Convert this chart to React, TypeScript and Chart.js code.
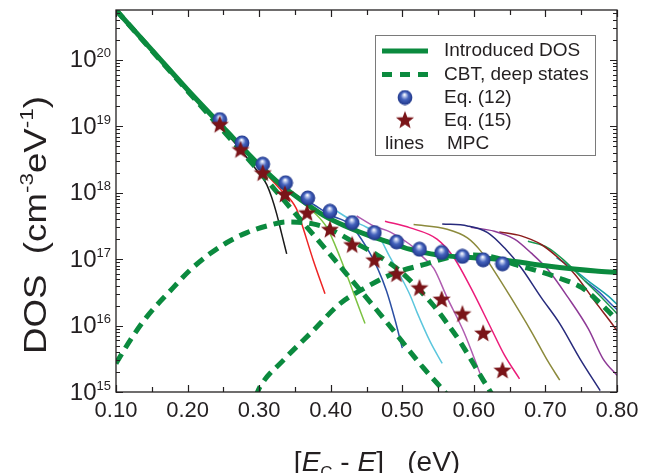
import React, { useEffect, useRef } from 'react';
import { Chart, registerables } from 'chart.js';

Chart.register(...registerables);

const FONT = '"Liberation Sans", Arial, Helvetica, sans-serif';

// ---------- axes ----------
const xMin = 0.1;
const xMax = 0.8;
const yMin = 1e15;
const yMax = 5.62e20;
const xTicks = [0.1, 0.2, 0.3, 0.4, 0.5, 0.6, 0.7, 0.8];
const xMinorTicks = [0.15, 0.25, 0.35, 0.45, 0.55, 0.65, 0.75];
const xTickLabels = ['0.10', '0.20', '0.30', '0.40', '0.50', '0.60', '0.70', '0.80'];
const yDecades = [15, 16, 17, 18, 19, 20];
const yTickLabels = ['15', '16', '17', '18', '19', '20'];

// ---------- data ----------
// Introduced DOS (thick solid)
const dosX = [0.10, 0.15, 0.20, 0.25, 0.30, 0.33, 0.36, 0.39, 0.42, 0.45, 0.48, 0.51, 0.54, 0.57, 0.60, 0.63, 0.66, 0.70, 0.74, 0.77, 0.80];
const dosY = [5.62e20, 1.41e20, 3.55e19, 9.55e18, 2.63e18, 1.32e18, 7.59e17, 4.57e17, 3.16e17, 2.34e17, 1.82e17, 1.41e17, 1.20e17, 1.10e17, 1.05e17, 1.00e17, 9.12e16, 7.94e16, 7.08e16, 6.61e16, 6.31e16];

// CBT (dashed)
const cbtX = [0.10, 0.20, 0.30, 0.347, 0.403, 0.473, 0.529, 0.557, 0.58];
const cbtY = [5.62e20, 3.39e19, 2.09e18, 5.37e17, 1.05e17, 1.32e16, 2.34e15, 1.07e15, 5.25e14];

// deep states, first (dashed)
const deep1X = [0.10, 0.12, 0.143, 0.18, 0.203, 0.231, 0.255, 0.283, 0.311, 0.339, 0.375, 0.403, 0.43, 0.465, 0.497, 0.52, 0.543, 0.563, 0.58, 0.597, 0.613, 0.625, 0.64];
const deep1Y = [2.69e15, 6.03e15, 1.35e16, 3.72e16, 6.76e16, 1.20e17, 1.78e17, 2.51e17, 3.16e17, 3.63e17, 3.39e17, 2.69e17, 1.86e17, 1.15e17, 6.61e16, 3.80e16, 2.04e16, 1.07e16, 5.89e15, 2.95e15, 1.51e15, 9.33e14, 4.79e14];

// deep states, second (dashed)
const deep2X = [0.295, 0.3012, 0.334, 0.376, 0.413, 0.45, 0.487, 0.534, 0.567, 0.60, 0.63, 0.657, 0.69, 0.718, 0.751, 0.774, 0.797, 0.80];
const deep2Y = [8.51e14, 1.20e15, 3.02e15, 8.51e15, 2.14e16, 3.80e16, 6.03e16, 8.51e16, 1.07e17, 1.15e17, 1.05e17, 8.32e16, 6.61e16, 5.25e16, 3.72e16, 2.29e16, 1.29e16, 1.17e16];

// Eq. (12) spheres
const eq12X = [0.245, 0.276, 0.305, 0.337, 0.368, 0.399, 0.430, 0.461, 0.492, 0.524, 0.555, 0.584, 0.613, 0.640];
const eq12Y = [1.26e19, 5.62e18, 2.69e18, 1.41e18, 8.32e17, 5.25e17, 3.55e17, 2.51e17, 1.82e17, 1.41e17, 1.26e17, 1.10e17, 9.77e16, 8.51e16];

// Eq. (15) stars
const eq15X = [0.245, 0.274, 0.305, 0.336, 0.367, 0.399, 0.430, 0.461, 0.492, 0.524, 0.555, 0.584, 0.613, 0.640];
const eq15Y = [1.07e19, 4.47e18, 2.00e18, 9.55e17, 5.01e17, 2.82e17, 1.66e17, 9.77e16, 6.03e16, 3.72e16, 2.51e16, 1.51e16, 7.76e15, 2.14e15];

// MPC thin lines
const blackX = [0.24, 0.27, 0.295, 0.305, 0.3106, 0.3175, 0.3245, 0.3315, 0.3385];
const blackY = [1.12e19, 5.01e18, 2.29e18, 1.66e18, 1.32e18, 8.51e17, 4.79e17, 2.40e17, 1.20e17];
const redX = [0.262, 0.29, 0.315, 0.335, 0.345, 0.352, 0.358, 0.3757, 0.392];
const redY = [7.08e18, 3.31e18, 1.66e18, 9.77e17, 7.59e17, 5.75e17, 3.80e17, 9.55e16, 3.02e16];
const lightGreenX = [0.30, 0.33, 0.355, 0.375, 0.3944, 0.413, 0.4316, 0.4479];
const lightGreenY = [2.40e18, 1.20e18, 7.94e17, 5.25e17, 3.02e17, 1.07e17, 3.16e16, 1.07e16];
const blueX = [0.33, 0.37, 0.40, 0.427, 0.45, 0.466, 0.478, 0.49, 0.50];
const blueY = [1.20e18, 7.24e17, 4.57e17, 3.31e17, 1.51e17, 7.08e16, 3.31e16, 1.20e16, 4.57e15];
const cyanX = [0.403, 0.43, 0.45, 0.465, 0.4828, 0.4968, 0.5108, 0.5206, 0.5393, 0.5558];
const cyanY = [5.75e17, 3.80e17, 3.02e17, 2.40e17, 1.07e17, 5.75e16, 2.88e16, 1.58e16, 5.62e15, 2.69e15];
const violetX = [0.4363, 0.46, 0.4828, 0.5108, 0.527, 0.544, 0.5627, 0.5862, 0.6097];
const violetY = [4.47e17, 3.16e17, 2.57e17, 1.66e17, 1.12e17, 7.24e16, 2.63e16, 7.94e15, 1.78e15];
const pinkX = [0.4758, 0.5112, 0.5485, 0.5722, 0.5957, 0.624, 0.643, 0.6638];
const pinkY = [3.72e17, 2.95e17, 2.00e17, 1.05e17, 3.72e16, 9.12e15, 3.55e15, 1.58e15];
const oliveX = [0.5158, 0.5627, 0.591, 0.6097, 0.6286, 0.6519, 0.6803, 0.7036, 0.72];
const oliveY = [3.31e17, 2.82e17, 2.09e17, 1.32e17, 6.61e16, 2.63e16, 8.13e15, 2.88e15, 1.51e15];
const navyX = [0.5558, 0.591, 0.6192, 0.6427, 0.6661, 0.6942, 0.72, 0.7483, 0.7765];
const navyY = [3.39e17, 3.16e17, 2.51e17, 1.48e17, 7.41e16, 2.63e16, 1.07e16, 3.16e15, 1.05e15];
const purpleX = [0.5957, 0.6286, 0.6568, 0.6803, 0.7036, 0.7318, 0.76, 0.7805, 0.80];
const purpleY = [3.02e17, 2.63e17, 2.00e17, 1.23e17, 6.92e16, 2.63e16, 8.91e15, 3.16e15, 1.78e15];
const darkRedX = [0.6355, 0.6661, 0.6942, 0.7178, 0.7413, 0.7694, 0.7976, 0.80];
const darkRedY = [2.57e17, 2.24e17, 1.66e17, 1.05e17, 5.89e16, 2.29e16, 9.12e15, 8.32e15];
const greenX = [0.6755, 0.7036, 0.7272, 0.7507, 0.7788, 0.80];
const greenY = [1.86e17, 1.48e17, 9.33e16, 5.25e16, 2.63e16, 1.51e16];
const tealX = [0.7155, 0.7366, 0.76, 0.7883, 0.80];
const tealY = [1.05e17, 7.41e16, 4.68e16, 2.75e16, 2.09e16];
const blue2X = [0.7553, 0.7742, 0.793, 0.80];
const blue2Y = [4.68e16, 3.24e16, 2.04e16, 1.74e16];

const mpcLines = [
  { x: blackX, y: blackY, color: '#1a1a1a' },
  { x: redX, y: redY, color: '#ee2424' },
  { x: lightGreenX, y: lightGreenY, color: '#7cc242' },
  { x: blueX, y: blueY, color: '#2b4fa3' },
  { x: cyanX, y: cyanY, color: '#5cc6dd' },
  { x: violetX, y: violetY, color: '#b05cb0' },
  { x: pinkX, y: pinkY, color: '#ec1c7a' },
  { x: oliveX, y: oliveY, color: '#8c8a3c' },
  { x: navyX, y: navyY, color: '#272a7c' },
  { x: purpleX, y: purpleY, color: '#8e3a96' },
  { x: darkRedX, y: darkRedY, color: '#8c1c1c' },
  { x: greenX, y: greenY, color: '#1a9850' },
  { x: tealX, y: tealY, color: '#17a0a8' },
  { x: blue2X, y: blue2Y, color: '#2f55b8' },
];

const legendLabels = ['Introduced DOS', 'CBT, deep states', 'Eq. (12)', 'Eq. (15)', 'MPC'];

const GREEN = '#0b8a3e';
const STAR_COLOR = '#7a1418';
const TEXT = '#231f20';

const pts = (xs: number[], ys: number[]) => xs.map((x, i) => ({ x, y: ys[i] }));

function makeSphere(): HTMLCanvasElement {
  const c = document.createElement('canvas');
  const s = 16;
  c.width = s; c.height = s;
  const g = c.getContext('2d')!;
  const r = 7.4;
  const grad = g.createRadialGradient(s / 2 - 0.5, s / 2 - 3, 0.3, s / 2, s / 2, r);
  grad.addColorStop(0, '#ffffff');
  grad.addColorStop(0.18, '#b9c6ec');
  grad.addColorStop(0.5, '#4563bd');
  grad.addColorStop(1, '#1f3689');
  g.fillStyle = grad;
  g.beginPath();
  g.arc(s / 2, s / 2, r, 0, Math.PI * 2);
  g.fill();
  return c;
}

function starPath(g: CanvasRenderingContext2D, cx: number, cy: number, R: number, r: number) {
  g.beginPath();
  for (let i = 0; i < 10; i++) {
    const rad = i % 2 === 0 ? R : r;
    const a = -Math.PI / 2 + (i * Math.PI) / 5;
    const px = cx + rad * Math.cos(a);
    const py = cy + rad * Math.sin(a);
    if (i === 0) g.moveTo(px, py); else g.lineTo(px, py);
  }
  g.closePath();
}

function makeStar(): HTMLCanvasElement {
  const c = document.createElement('canvas');
  const s = 22;
  c.width = s; c.height = s;
  const g = c.getContext('2d')!;
  g.fillStyle = STAR_COLOR;
  starPath(g, s / 2, s / 2 + 0.8, 9.5, 4);
  g.fill();
  return c;
}

type Part = { t: string; size: number; dy?: number; italic?: boolean };
function drawRich(g: CanvasRenderingContext2D, parts: Part[], x: number, y: number, align: 'left' | 'center' | 'right', target?: number) {
  const f = (p: Part) => `${p.italic ? 'italic ' : ''}${p.size}px ${FONT}`;
  let total = 0;
  for (const p of parts) { g.font = f(p); total += g.measureText(p.t).width; }
  const k = target ? target / total : 1;
  const w = total * k;
  let cx = align === 'left' ? x : align === 'center' ? x - w / 2 : x - w;
  g.textAlign = 'left';
  g.textBaseline = 'alphabetic';
  for (const p of parts) {
    g.font = f(p);
    g.save();
    g.translate(cx, y + (p.dy || 0));
    g.scale(k, 1);
    g.fillText(p.t, 0, 0);
    g.restore();
    cx += g.measureText(p.t).width * k;
  }
}

export default function App() {
  const ref = useRef<HTMLCanvasElement | null>(null);
  useEffect(() => {
    if (!ref.current) return;
    const sphere = makeSphere();
    const star = makeStar();

    const framePlugin = {
      id: 'framePlugin',
      afterDraw(chart: any) {
        const g: CanvasRenderingContext2D = chart.ctx;
        const a = chart.chartArea;
        const xs = chart.scales.x;
        const ys = chart.scales.y;
        g.save();
        g.strokeStyle = TEXT;
        g.lineWidth = 1.3;
        g.strokeRect(a.left, a.top, a.right - a.left, a.bottom - a.top);
        g.lineWidth = 1.2;
        g.beginPath();
        const xTick = (v: number, len: number) => {
          const px = Math.round(xs.getPixelForValue(v)) + 0.5;
          g.moveTo(px, a.bottom); g.lineTo(px, a.bottom - len);
          g.moveTo(px, a.top); g.lineTo(px, a.top + len);
        };
        xTicks.forEach(v => xTick(v, 7));
        xMinorTicks.forEach(v => xTick(v, 5));
        const yTick = (v: number, len: number) => {
          const py = Math.round(ys.getPixelForValue(v)) + 0.5;
          g.moveTo(a.left, py); g.lineTo(a.left + len, py);
          g.moveTo(a.right, py); g.lineTo(a.right - len, py);
        };
        yDecades.forEach(d => {
          yTick(Math.pow(10, d), 7);
          for (let m = 2; m <= 9; m++) {
            const v = m * Math.pow(10, d);
            if (v < yMax) yTick(v, 4);
          }
        });
        g.stroke();

        // tick labels
        g.fillStyle = TEXT;
        g.font = `22px ${FONT}`;
        g.textAlign = 'center';
        g.textBaseline = 'alphabetic';
        xTicks.forEach((v, i) => {
          g.fillText(xTickLabels[i], xs.getPixelForValue(v), 417);
        });
        yDecades.forEach((d, i) => {
          const py = ys.getPixelForValue(Math.pow(10, d));
          drawRich(g, [{ t: '10', size: 24 }, { t: yTickLabels[i], size: 13, dy: -10 }], 111, py + 7.5, 'right');
        });

        // axis titles
        drawRich(g, [
          { t: '[', size: 28 },
          { t: 'E', size: 28, italic: true },
          { t: 'C', size: 17, dy: 7 },
          { t: ' - ', size: 28 },
          { t: 'E', size: 28, italic: true },
          { t: ']', size: 28 },
          { t: '   (eV)', size: 28 },
        ], 377, 471, 'center');

        g.save();
        g.translate(46, 225);
        g.rotate(-Math.PI / 2);
        drawRich(g, [
          { t: 'DOS  (cm', size: 31 },
          { t: '-3', size: 19, dy: -13 },
          { t: 'eV', size: 31 },
          { t: '-1', size: 19, dy: -13 },
          { t: ')', size: 31 },
        ], 0, 0, 'center', 258);
        g.restore();

        // legend
        const lx = 375.5, ly = 35.5, lw = 220, lh = 120;
        g.fillStyle = '#ffffff';
        g.fillRect(lx, ly, lw, lh);
        g.strokeStyle = '#7a7a7a';
        g.lineWidth = 1;
        g.strokeRect(lx, ly, lw, lh);
        const rows = [51, 74.5, 97.5, 120.5, 144];
        g.strokeStyle = GREEN;
        g.lineWidth = 5;
        g.beginPath(); g.moveTo(382, rows[0]); g.lineTo(428, rows[0]); g.stroke();
        g.setLineDash([10, 8]);
        g.beginPath(); g.moveTo(382, rows[1]); g.lineTo(428, rows[1]); g.stroke();
        g.setLineDash([]);
        g.drawImage(sphere, 405 - 8, rows[2] - 8);
        g.drawImage(star, 405 - 11, rows[3] - 11.8);
        g.fillStyle = TEXT;
        g.font = `19px ${FONT}`;
        g.textAlign = 'left';
        g.textBaseline = 'middle';
        for (let i = 0; i < 4; i++) g.fillText(legendLabels[i], 444, rows[i]);
        g.fillText('lines', 385, rows[4]);
        g.fillText(legendLabels[4], 447, rows[4]);
        g.restore();
      },
    };

    const thin = mpcLines.map(l => ({
      data: pts(l.x, l.y),
      borderColor: l.color,
      borderWidth: 1.5,
      pointRadius: 0,
      cubicInterpolationMode: 'monotone' as const,
      clip: 0,
    }));
    const dashed = (xs: number[], ys: number[]) => ({
      data: pts(xs, ys),
      borderColor: GREEN,
      borderWidth: 5,
      borderDash: [11, 7],
      pointRadius: 0,
      cubicInterpolationMode: 'monotone' as const,
      clip: 0,
    });

    const chart = new Chart(ref.current, {
      type: 'line',
      data: {
        datasets: [
          { data: pts(eq15X, eq15Y), showLine: false, pointStyle: star as any, pointRadius: 10, borderWidth: 0, clip: 0 },
          { data: pts(eq12X, eq12Y), showLine: false, pointStyle: sphere as any, pointRadius: 8, borderWidth: 0, clip: 0 },
          { data: pts(dosX, dosY), borderColor: GREEN, borderWidth: 5, pointRadius: 0, cubicInterpolationMode: 'monotone', clip: 0 },
          dashed(cbtX, cbtY),
          dashed(deep1X, deep1Y),
          dashed(deep2X, deep2Y),
          ...thin,
        ] as any,
      },
      options: {
        animation: false,
        responsive: false,
        devicePixelRatio: 1,
        layout: { padding: { left: 116, top: 9, right: 32, bottom: 81 } },
        scales: {
          x: { type: 'linear', min: xMin, max: xMax, display: false },
          y: { type: 'logarithmic', min: yMin, max: yMax, display: false },
        },
        plugins: { legend: { display: false }, tooltip: { enabled: false } },
        events: [],
      },
      plugins: [framePlugin],
    });
    return () => chart.destroy();
  }, []);

  return (
    <div style={{ position: 'fixed', left: 0, top: 0, width: 649, height: 473, background: '#fff' }}>
      <canvas ref={ref} width={649} height={473} style={{ display: 'block' }} />
    </div>
  );
}
